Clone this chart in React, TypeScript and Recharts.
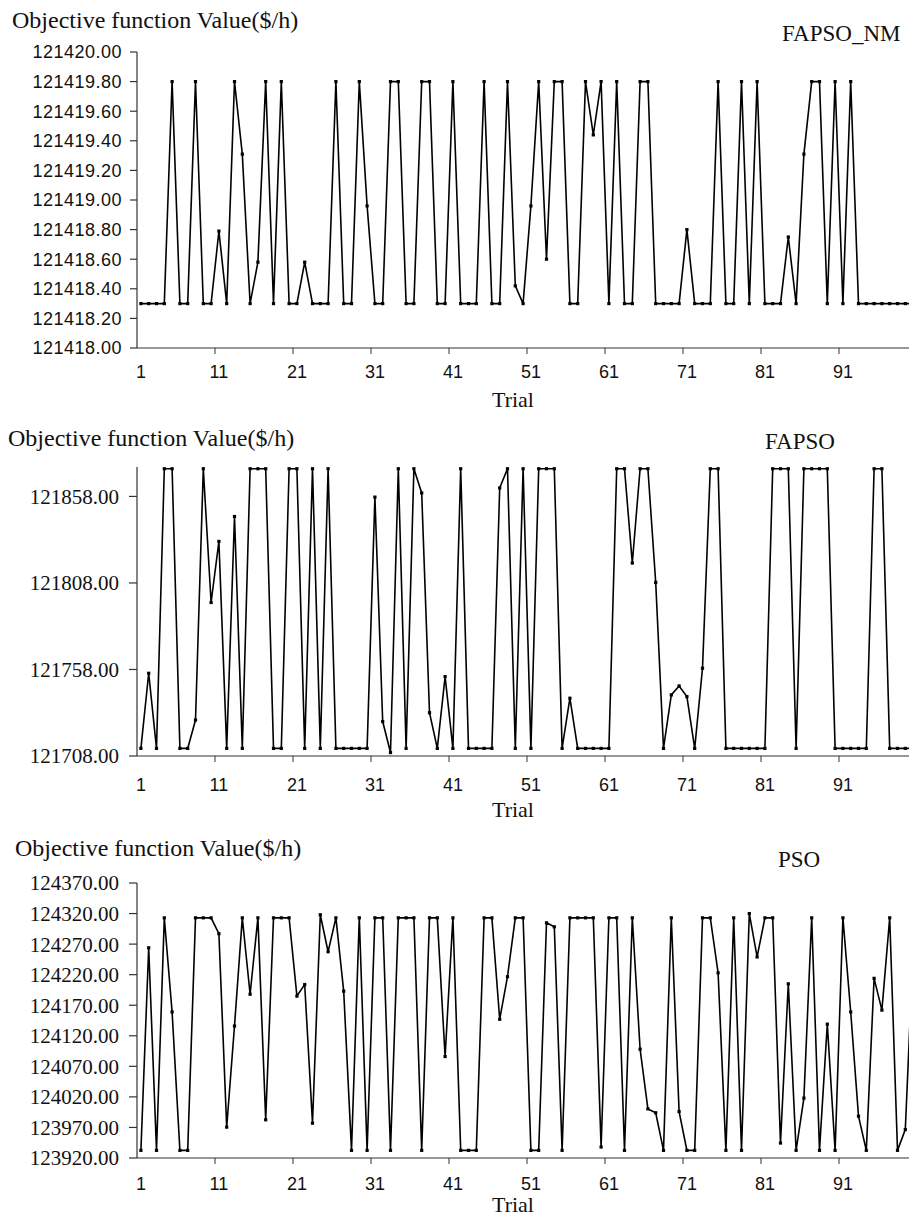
import { LineChart, Line, XAxis, YAxis } from 'recharts'

// trial numbers 1..100
const trials = [
  1, 2, 3, 4, 5, 6, 7, 8, 9, 10, 11, 12, 13, 14, 15, 16, 17, 18, 19, 20,
  21, 22, 23, 24, 25, 26, 27, 28, 29, 30, 31, 32, 33, 34, 35, 36, 37, 38, 39, 40,
  41, 42, 43, 44, 45, 46, 47, 48, 49, 50, 51, 52, 53, 54, 55, 56, 57, 58, 59, 60,
  61, 62, 63, 64, 65, 66, 67, 68, 69, 70, 71, 72, 73, 74, 75, 76, 77, 78, 79, 80,
  81, 82, 83, 84, 85, 86, 87, 88, 89, 90, 91, 92, 93, 94, 95, 96, 97, 98, 99, 100,
]

const fapsoNmValues = [
  121418.3, 121418.3, 121418.3, 121418.3, 121419.8, 121418.3, 121418.3, 121419.8, 121418.3, 121418.3,
  121418.79, 121418.3, 121419.8, 121419.31, 121418.3, 121418.58, 121419.8, 121418.3, 121419.8, 121418.3,
  121418.3, 121418.58, 121418.3, 121418.3, 121418.3, 121419.8, 121418.3, 121418.3, 121419.8, 121418.96,
  121418.3, 121418.3, 121419.8, 121419.8, 121418.3, 121418.3, 121419.8, 121419.8, 121418.3, 121418.3,
  121419.8, 121418.3, 121418.3, 121418.3, 121419.8, 121418.3, 121418.3, 121419.8, 121418.42, 121418.3,
  121418.96, 121419.8, 121418.6, 121419.8, 121419.8, 121418.3, 121418.3, 121419.8, 121419.44, 121419.8,
  121418.3, 121419.8, 121418.3, 121418.3, 121419.8, 121419.8, 121418.3, 121418.3, 121418.3, 121418.3,
  121418.8, 121418.3, 121418.3, 121418.3, 121419.8, 121418.3, 121418.3, 121419.8, 121418.3, 121419.8,
  121418.3, 121418.3, 121418.3, 121418.75, 121418.3, 121419.31, 121419.8, 121419.8, 121418.3, 121419.8,
  121418.3, 121419.8, 121418.3, 121418.3, 121418.3, 121418.3, 121418.3, 121418.3, 121418.3, 121418.3,
]

const fapsoValues = [
  121712.4, 121755.8, 121712.4, 121874, 121874, 121712.4, 121712.4, 121728.8, 121874, 121796.7,
  121832, 121712.4, 121846.4, 121712.4, 121874, 121874, 121874, 121712.4, 121712.4, 121874,
  121874, 121712.4, 121874, 121712.4, 121874, 121712.4, 121712.4, 121712.4, 121712.4, 121712.4,
  121857.6, 121727.9, 121710, 121874, 121712.4, 121874, 121860, 121733, 121712.4, 121753.9,
  121712.4, 121874, 121712.4, 121712.4, 121712.4, 121712.4, 121862.9, 121874, 121712.4, 121874,
  121712.4, 121874, 121874, 121874, 121712.4, 121741.4, 121712.4, 121712.4, 121712.4, 121712.4,
  121712.4, 121874, 121874, 121819.5, 121874, 121874, 121808.3, 121712.4, 121743.3, 121748.5,
  121742.3, 121712.4, 121758.7, 121874, 121874, 121712.4, 121712.4, 121712.4, 121712.4, 121712.4,
  121712.4, 121874, 121874, 121874, 121712.4, 121874, 121874, 121874, 121874, 121712.4,
  121712.4, 121712.4, 121712.4, 121712.4, 121874, 121874, 121712.4, 121712.4, 121712.4, 121712.4,
]

const psoValues = [
  123932.5, 124264, 123932.5, 124313, 124159, 123932.5, 123932.5, 124313, 124313, 124313,
  124287, 123970.5, 124136, 124313, 124188, 124313, 123982.5, 124313, 124313, 124313,
  124185, 124203.7, 123977, 124318, 124257.5, 124313, 124193, 123932.5, 124313, 123932.5,
  124313, 124313, 123932.5, 124313, 124313, 124313, 123932.5, 124313, 124313, 124086,
  124313, 123932.5, 123932.5, 123932.5, 124313, 124313, 124147, 124216.7, 124313, 124313,
  123932.5, 123932.5, 124304.8, 124298.3, 123932.5, 124313, 124313, 124313, 124313, 123938,
  124313, 124313, 123932.5, 124313, 124098, 124000.4, 123994, 123932.5, 124313, 123996,
  123932.5, 123932.5, 124313, 124313, 124223, 123932.5, 124313, 123932.5, 124320, 124249,
  124313, 124313, 123944.5, 124205, 123932.5, 124018, 124313, 123932.5, 124139, 123932.5,
  124313, 124159, 123988.5, 123932.5, 124214, 124162, 124313, 123932.5, 123966.6, 124260,
]

const xLabelTicks = [1, 11, 21, 31, 41, 51, 61, 71, 81, 91]
const xMarkTicks = [10.5, 20.5, 30.5, 40.5, 50.5, 60.5, 70.5, 80.5, 90.5, 100.5]

const fapsoNmTicks = [
  121418.0, 121418.2, 121418.4, 121418.6, 121418.8, 121419.0,
  121419.2, 121419.4, 121419.6, 121419.8, 121420.0,
]
const fapsoTicks = [121708, 121758, 121808, 121858]
const psoTicks = [123920, 123970, 124020, 124070, 124120, 124170, 124220, 124270, 124320, 124370]

const rows = trials.map((t, i) => ({
  trial: t,
  fapsoNm: fapsoNmValues[i],
  fapso: fapsoValues[i],
  pso: psoValues[i],
}))

const xTicks = [...xLabelTicks, ...xMarkTicks].sort((a, b) => a - b)

const SERIF = "'Liberation Serif', 'Times New Roman', serif"
const SANS = "'Liberation Sans', Arial, sans-serif"
const INK = '#111'
const AXIS = '#333'

const Square = (p: any) => {
  if (p.cx == null || p.cy == null) return <g key={p.index} />
  return <rect key={p.index} x={p.cx - 1.6} y={p.cy - 1.6} width={3.2} height={3.2} fill="#000" />
}

interface PanelProps {
  top: number
  height: number
  marginTop: number
  dataKey: string
  domain: [number, number]
  yTicks: number[]
  yFont: string
  yFontSize: number
  ySpacing: number
  yTickSize: number
  yTickMargin: number
  xMargin: number
}

function Panel(props: PanelProps) {
  const { top, height, marginTop, dataKey, domain, yTicks, yFont, yFontSize, ySpacing, yTickSize, yTickMargin, xMargin } = props

  const renderXTick = (p: any) => {
    const v = p.payload.value
    if (v % 1 !== 0) {
      const y0 = p.y - xMargin
      return <line x1={p.x} x2={p.x} y1={y0} y2={y0 + 6} stroke={AXIS} strokeWidth={1} />
    }
    return (
      <text x={p.x} y={p.y} dy="0.71em" textAnchor="middle" fontFamily={SANS} fontSize={18} fill={INK}>
        {v}
      </text>
    )
  }

  return (
    <div style={{ position: 'absolute', left: 0, top }}>
      <LineChart width={930} height={height} data={rows} margin={{ top: marginTop, right: 13, bottom: 0, left: 0 }}>
        <XAxis
          dataKey="trial"
          type="number"
          domain={[0.5, 100.5]}
          ticks={xTicks}
          interval={0}
          tickSize={0}
          tickMargin={xMargin}
          tickLine={false}
          axisLine={{ stroke: AXIS, strokeWidth: 1.2 }}
          height={40}
          tick={renderXTick}
        />
        <YAxis
          type="number"
          domain={domain}
          ticks={yTicks}
          interval={0}
          width={137}
          tickSize={yTickSize}
          tickMargin={yTickMargin}
          axisLine={{ stroke: AXIS, strokeWidth: 1.2 }}
          tickLine={{ stroke: AXIS, strokeWidth: 1.2 }}
          tickFormatter={(v: number) => v.toFixed(2)}
          tick={{ fontFamily: yFont, fontSize: yFontSize, fill: INK, letterSpacing: ySpacing }}
        />
        <Line
          type="linear"
          dataKey={dataKey}
          stroke="#000"
          strokeWidth={1.6}
          dot={Square}
          activeDot={false}
          isAnimationActive={false}
        />
      </LineChart>
    </div>
  )
}

const textStyle = (left: number, top: number, size: number): React.CSSProperties => ({
  position: 'absolute',
  left,
  top,
  fontFamily: SERIF,
  fontSize: size,
  lineHeight: 1,
  color: INK,
  whiteSpace: 'nowrap',
})

export default function App() {
  return (
    <div style={{ position: 'absolute', left: 0, top: 0, width: 909, height: 1219, overflow: 'hidden', background: '#fff' }}>
      {/* FAPSO_NM */}
      <div style={textStyle(12, 8, 24)}>Objective function Value($/h)</div>
      <div style={textStyle(782, 22, 23)}>FAPSO_NM</div>
      <Panel
        top={0}
        height={388}
        marginTop={52}
        dataKey="fapsoNm"
        domain={[121418, 121420]}
        yTicks={fapsoNmTicks}
        yFont={SANS}
        yFontSize={18}
        ySpacing={0.5}
        yTickSize={7}
        yTickMargin={8}
        xMargin={17}
      />
      <div style={textStyle(492, 389, 22)}>Trial</div>

      {/* FAPSO */}
      <div style={textStyle(8, 426, 24)}>Objective function Value($/h)</div>
      <div style={textStyle(765, 430, 23)}>FAPSO</div>
      <Panel
        top={420}
        height={376}
        marginTop={47}
        dataKey="fapso"
        domain={[121708, 121875]}
        yTicks={fapsoTicks}
        yFont={SERIF}
        yFontSize={21}
        ySpacing={0}
        yTickSize={8}
        yTickMargin={10}
        xMargin={22}
      />
      <div style={textStyle(492, 799, 22)}>Trial</div>

      {/* PSO */}
      <div style={textStyle(15, 836, 24)}>Objective function Value($/h)</div>
      <div style={textStyle(778, 848, 23)}>PSO</div>
      <Panel
        top={840}
        height={358}
        marginTop={43}
        dataKey="pso"
        domain={[123920, 124370]}
        yTicks={psoTicks}
        yFont={SERIF}
        yFontSize={21}
        ySpacing={0}
        yTickSize={8}
        yTickMargin={10}
        xMargin={19}
      />
      <div style={textStyle(492, 1194, 22)}>Trial</div>
    </div>
  )
}
